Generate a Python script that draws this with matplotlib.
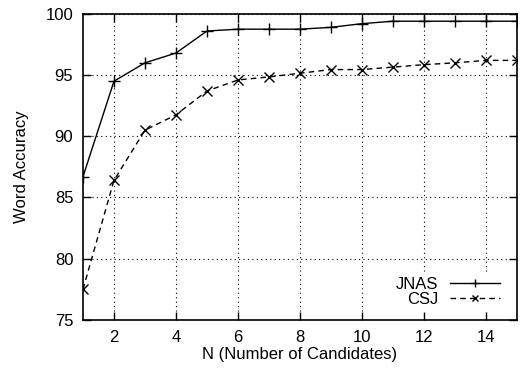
import numpy as np
import matplotlib.pyplot as plt

n_cand = list(range(1, 16))
jnas = [86.7, 94.5, 96.0, 96.8, 98.6, 98.75, 98.75, 98.75, 98.9, 99.2, 99.4, 99.4, 99.4, 99.4, 99.4]
csj = [77.5, 86.4, 90.5, 91.75, 93.7, 94.6, 94.85, 95.15, 95.45, 95.45, 95.65, 95.85, 96.0, 96.2, 96.2]

plt.rcParams['font.family'] = ['Liberation Sans', 'DejaVu Sans']
plt.rcParams['font.size'] = 12

fig = plt.figure(figsize=(5.22, 3.75), dpi=100)
ax = fig.add_axes([0.159, 0.147, 0.831, 0.816])

ax.plot(n_cand, jnas, color='black', linestyle='-', linewidth=1.0,
        marker='+', markersize=8, markeredgewidth=1.0, label='JNAS', zorder=3)
ax.plot(n_cand, csj, color='black', linestyle=(0, (4, 3)), linewidth=1.0,
        marker='x', markersize=7, markeredgewidth=1.0, label='CSJ', zorder=3)

ax.set_xlim(1, 15)
ax.set_ylim(75, 100)
ax.set_xticks([2, 4, 6, 8, 10, 12, 14])
ax.set_yticks([75, 80, 85, 90, 95, 100])
ax.grid(True, color='black', linestyle=(0, (1, 3)), linewidth=0.8)
ax.tick_params(direction='in', top=True, right=True, length=6, width=1.0, pad=7)
for s in ax.spines.values():
    s.set_linewidth(1.2)

ax.set_xlabel('N (Number of Candidates)', labelpad=2)
ax.set_ylabel('Word Accuracy', labelpad=12)

leg = ax.legend(loc='lower right', markerfirst=False, frameon=True, fancybox=False,
                edgecolor='none', facecolor='white', framealpha=1.0,
                handlelength=3.0, handletextpad=0.7, borderaxespad=0.3,
                borderpad=0.3, labelspacing=0.0, markerscale=0.7, fontsize=12,
                bbox_to_anchor=(0.985, 0.01))
leg.set_zorder(5)

fig.savefig('out.png', dpi=100)
